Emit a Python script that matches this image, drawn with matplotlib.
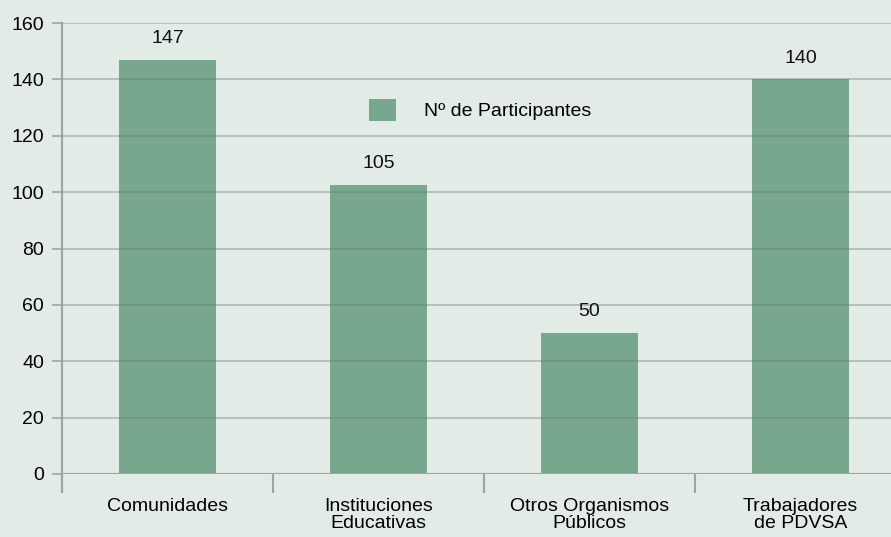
import matplotlib.pyplot as plt
import numpy as np

plt.rcParams['font.family'] = ['Liberation Sans', 'DejaVu Sans']

categories = ["Comunidades", "Instituciones\nEducativas", "Otros Organismos\nPúblicos", "Trabajadores\nde PDVSA"]
heights = [147, 102.5, 50, 140]
labels = ["147", "105", "50", "140"]
series_name = "Nº de Participantes"

bg = "#e3ebe7"
bar_color = "#77a88d"
fs = 14

fig = plt.figure(figsize=(8.91, 5.37), dpi=100, facecolor=bg)
# axes runs off the right edge like the original
x0, x1 = 62 / 891, 906 / 891
y0, y1 = 1 - 474 / 537, 1 - 23 / 537
ax = fig.add_axes([x0, y0, x1 - x0, y1 - y0], facecolor=bg)

x = np.arange(len(categories))
bars = ax.bar(x, heights, width=0.46, color=bar_color, zorder=2, label=series_name)
for xi, h, lab in zip(x, heights, labels):
    ax.text(xi, h + 4.5, lab, ha="center", va="bottom", fontsize=fs, color="#111111")

ax.set_xlim(-0.5, 3.5)
ax.set_ylim(0, 160)
ax.set_yticks(range(0, 161, 20))
ax.yaxis.grid(True, color="#6f7a74", alpha=0.45, linewidth=1.2, zorder=3)
ax.set_axisbelow(False)

for s in ["top", "right", "bottom"]:
    ax.spines[s].set_visible(False)
ax.spines["left"].set_color("#9ea5a1")
ax.spines["left"].set_linewidth(1.5)
ax.spines["left"].set_bounds(-5, 160)

# category boundary ticks on the baseline
ax.set_xticks(np.arange(-0.5, 3.6, 1.0))
ax.set_xticklabels([])
ax.set_xticks(x, minor=True)
ax.set_xticklabels(categories, minor=True, fontsize=fs)
ax.tick_params(axis="x", which="major", length=14, width=1.5, color="#9ea5a1", direction="out")
ax.tick_params(axis="x", which="minor", length=0, pad=17)
ax.tick_params(axis="y", length=7, width=1.2, color="#9ea5a1", labelsize=fs, pad=6)
ax.axhline(0, color="#9ea5a1", linewidth=1.5, zorder=4)
for lab in ax.get_xticklabels(minor=True):
    lab.set_linespacing(1.0)

leg = ax.legend(loc="center", bbox_to_anchor=(480 / 891 / (x1 - x0) - x0 / (x1 - x0), 1 - (110 - 23) / (474 - 23)),
                frameon=False, fontsize=fs, handlelength=1.4, handleheight=1.4, handletextpad=1.4)

fig.savefig("out.png", dpi=100, facecolor=bg)
